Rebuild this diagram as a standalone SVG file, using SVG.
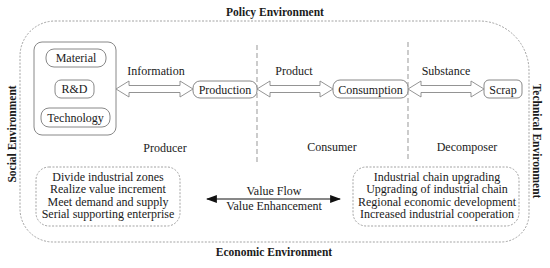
<svg xmlns="http://www.w3.org/2000/svg" width="550" height="268" viewBox="0 0 550 268">
<style>
text{font-family:"Liberation Serif","Times New Roman",serif;fill:#1a1a1a;font-size:12px}
.b{font-weight:bold;font-size:11.5px}
.c{text-anchor:middle}
.box{fill:#fff;stroke:#888;stroke-width:1}
.dash{fill:none;stroke:#999;stroke-width:0.9;stroke-dasharray:2 1.5}
.vl{stroke:#aaa;stroke-width:1.2;stroke-dasharray:5 3}
.ha{fill:#fff;stroke:#888;stroke-width:0.9}
</style>
<defs>
<marker id="ah" viewBox="0 0 10 10" refX="9" refY="5" markerWidth="11" markerHeight="11" orient="auto-start-reverse" markerUnits="userSpaceOnUse">
<path d="M0,1.3 L10,5 L0,8.7 Z" fill="#111"/>
</marker>
</defs>
<rect fill="#fff" width="550" height="268"/>
<g id="environment">
<path class="dash" d="M55,21 H480 A50,50 0 0 1 529,71 V214 A28,28 0 0 1 501,242 H53 A33,33 0 0 1 20,209 V56 A35,35 0 0 1 55,21 Z"/>
<text class="b c" x="275" y="16">Policy Environment</text>
<text class="b c" x="274" y="256">Economic Environment</text>
<text class="b c" transform="translate(16,134) rotate(-90)">Social Environment</text>
<text class="b c" transform="translate(533,141) rotate(90)">Technical Environment</text>
</g>
<g id="dividers">
<line class="vl" x1="257" y1="45" x2="257" y2="165"/>
<line class="vl" x1="408" y1="42" x2="408" y2="162"/>
</g>
<g id="producer">
<rect class="box" x="34" y="42" width="82" height="93" rx="8"/>
<text class="c" x="165" y="152">Producer</text>
</g>
<g id="material"><rect class="box" x="46" y="49" width="60" height="18" rx="8"/><text class="c" x="76" y="62">Material</text></g>
<g id="rd"><rect class="box" x="55" y="80" width="39" height="18" rx="6"/><text class="c" x="74.5" y="93">R&amp;D</text></g>
<g id="technology"><rect class="box" x="41" y="108" width="69" height="19" rx="8"/><text class="c" x="75.5" y="121.5">Technology</text></g>
<g id="production"><rect class="box" x="193" y="81" width="64" height="17" rx="7"/><text class="c" x="225" y="93.5">Production</text></g>
<g id="consumption"><rect class="box" x="333" y="80" width="75" height="18" rx="7"/><text class="c" x="370.5" y="93.5">Consumption</text>
<text class="c" x="332" y="151">Consumer</text></g>
<g id="scrap"><rect class="box" x="484" y="80" width="38" height="18" rx="5"/><text class="c" x="503" y="93.5">Scrap</text>
<text class="c" x="467" y="151">Decomposer</text></g>
<g id="left-box">
<rect class="dash" x="36" y="167" width="144" height="59" rx="13"/>
<text class="c" x="108" y="180.5">Divide industrial zones</text>
<text class="c" x="108" y="193">Realize value increment</text>
<text class="c" x="108" y="205.5">Meet demand and supply</text>
<text class="c" x="108" y="218">Serial supporting enterprise</text>
</g>
<g id="right-box">
<rect class="dash" x="353" y="167" width="166" height="59" rx="13"/>
<text class="c" x="437" y="180.5">Industrial chain upgrading</text>
<text class="c" x="437" y="193">Upgrading of industrial chain</text>
<text class="c" x="437" y="205.5">Regional economic development</text>
<text class="c" x="437" y="218">Increased industrial cooperation</text>
</g>
<g id="connectors">
<polygon class="ha" points="116,89 129,81 129,85.5 180,85.5 180,81 193,89 180,97 180,92.5 129,92.5 129,97"/>
<text class="c" x="156" y="75">Information</text>
<polygon class="ha" points="257,89 270,81 270,85.5 320,85.5 320,81 333,89 320,97 320,92.5 270,92.5 270,97"/>
<text class="c" x="294" y="75">Product</text>
<polygon class="ha" points="408,89 421,81 421,85.5 471,85.5 471,81 484,89 471,97 471,92.5 421,92.5 421,97"/>
<text class="c" x="446" y="75">Substance</text>
<line x1="207" y1="199" x2="340" y2="199" stroke="#111" stroke-width="1" marker-start="url(#ah)" marker-end="url(#ah)"/>
<text class="c" x="274" y="195">Value Flow</text>
<text class="c" x="274" y="210">Value Enhancement</text>
</g>
</svg>
